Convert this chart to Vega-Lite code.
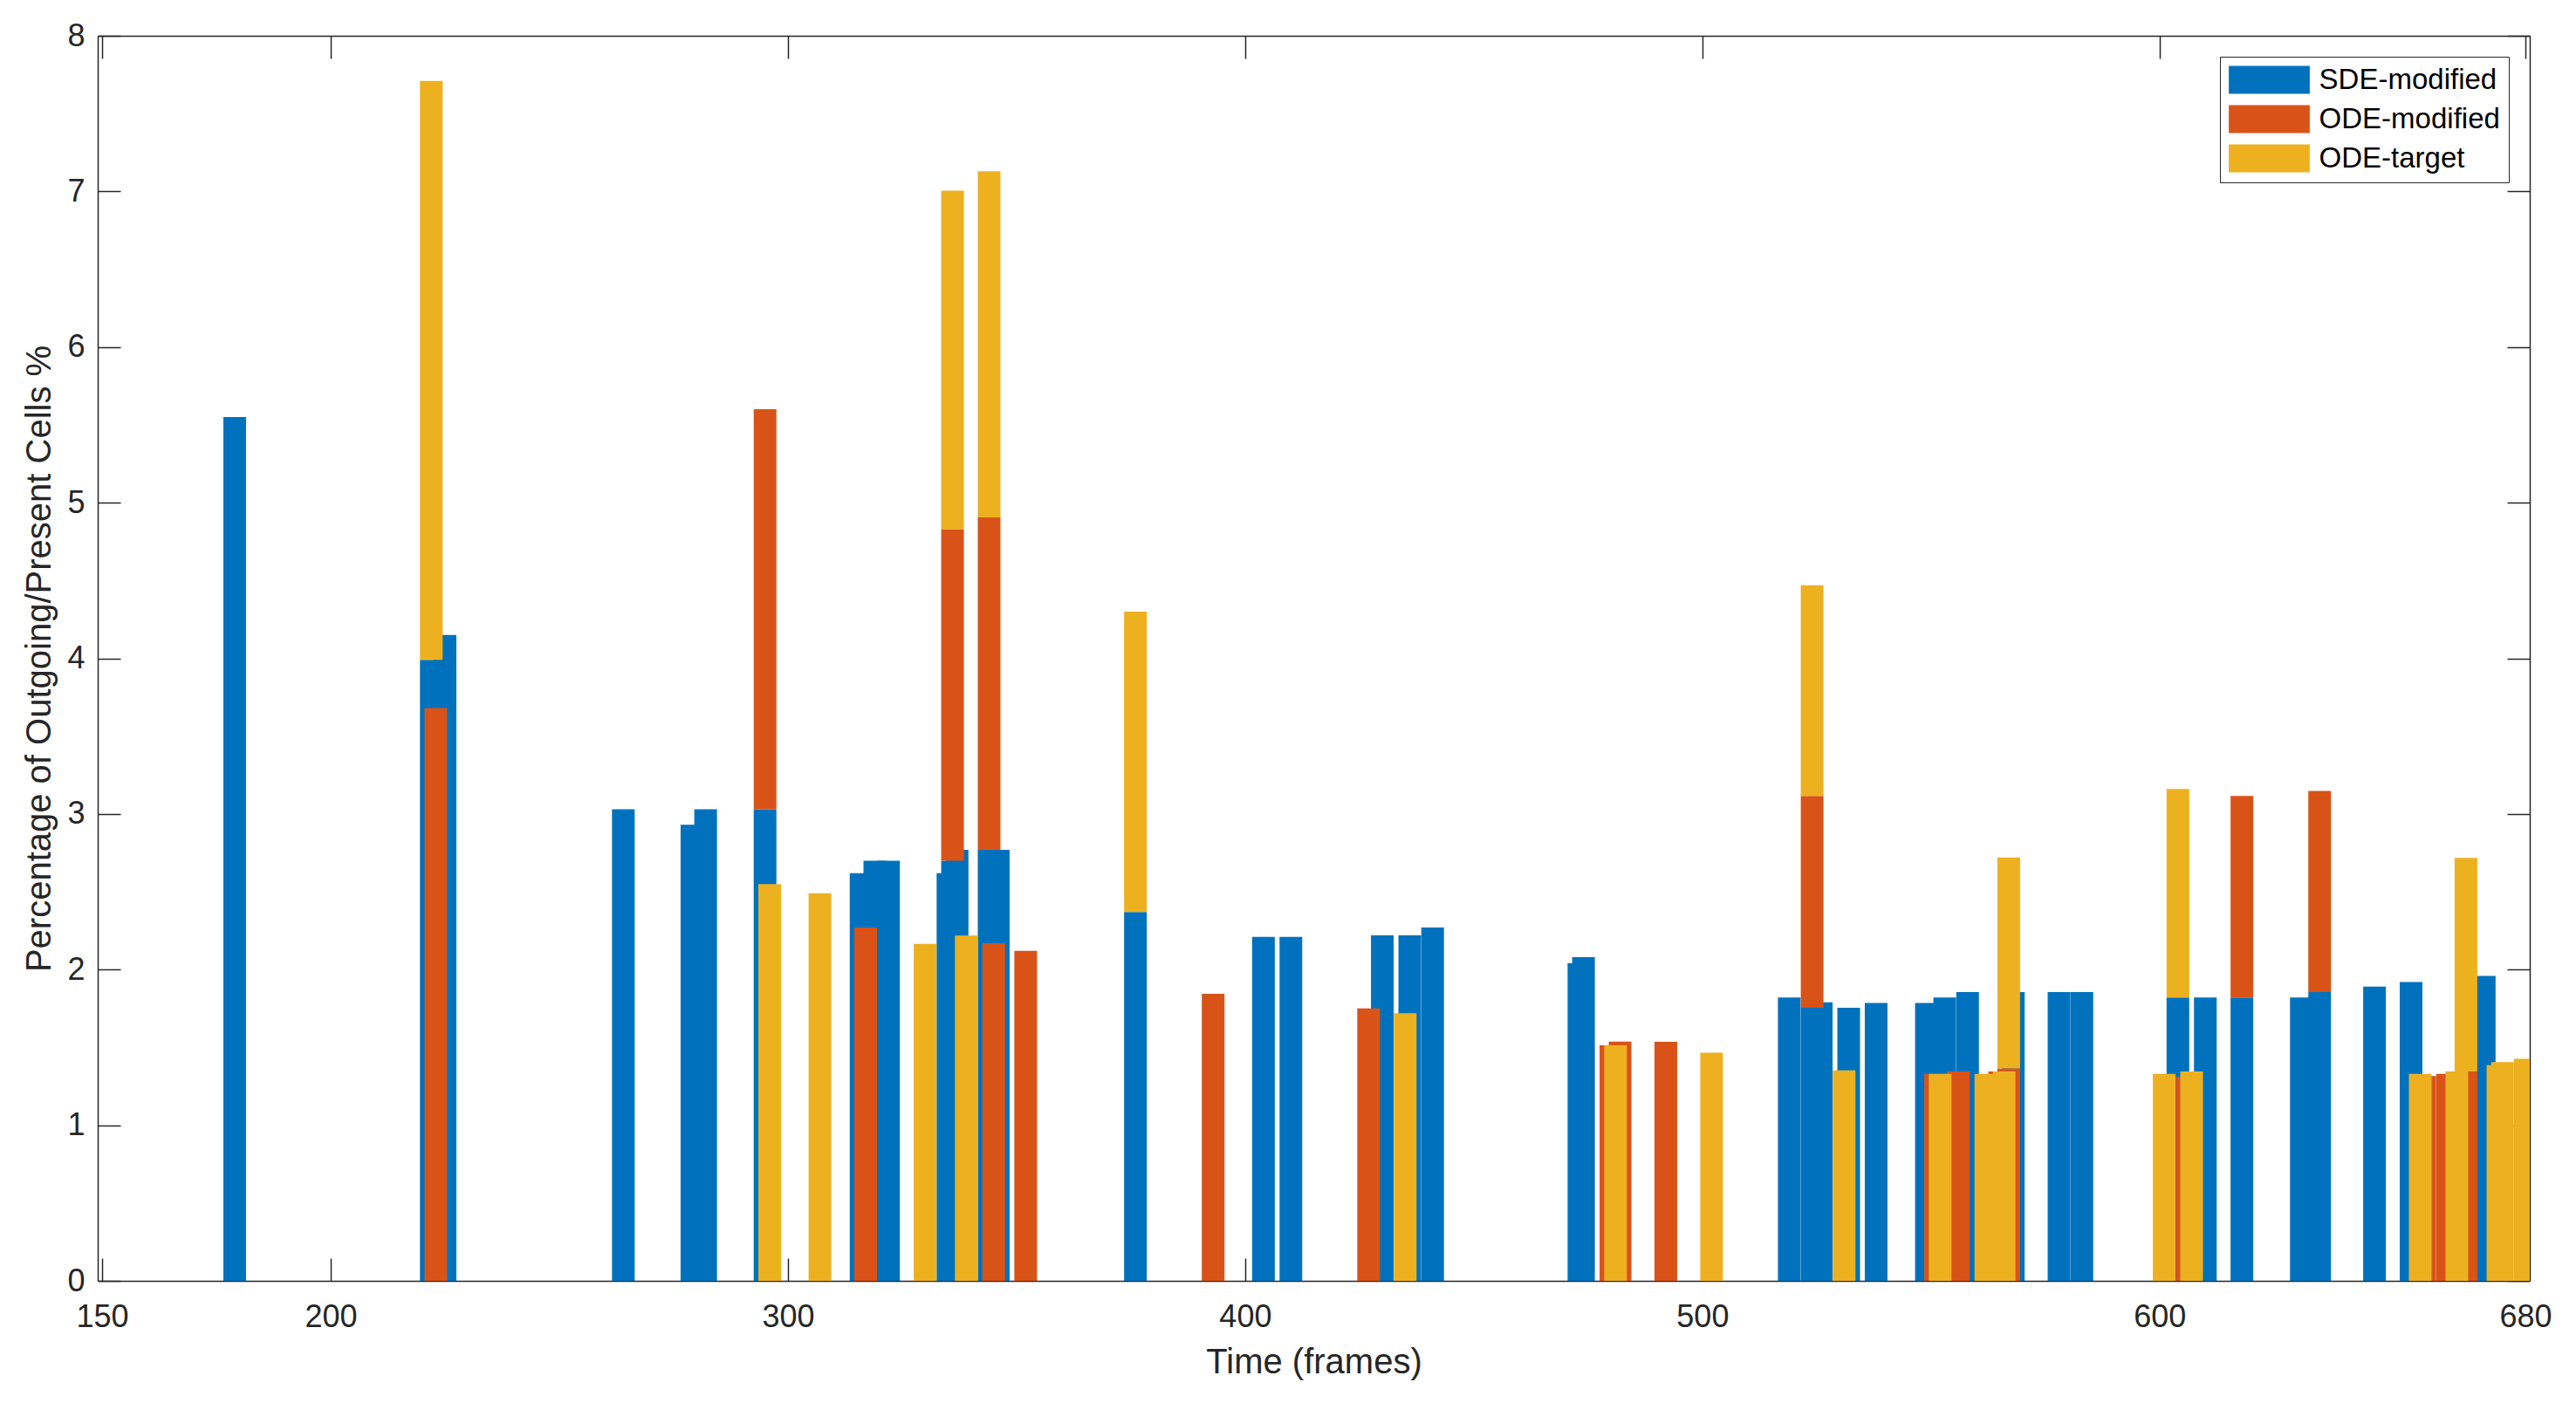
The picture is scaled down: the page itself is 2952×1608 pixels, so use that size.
{
  "$schema": "https://vega.github.io/schema/vega-lite/v6.json",
  "width": 2787,
  "height": 1427,
  "autosize": {"type": "none"},
  "padding": {"left": 112, "top": 41, "right": 53, "bottom": 140},
  "background": "white",
  "data": {"values": [
    {"t": 179, "series": "SDE-modified", "v": 5.55},
    {"t": 222, "series": "SDE-modified", "v": 3.99},
    {"t": 225, "series": "SDE-modified", "v": 4.15},
    {"t": 264, "series": "SDE-modified", "v": 3.03},
    {"t": 279, "series": "SDE-modified", "v": 2.93},
    {"t": 282, "series": "SDE-modified", "v": 3.03},
    {"t": 295, "series": "SDE-modified", "v": 3.03},
    {"t": 316, "series": "SDE-modified", "v": 2.62},
    {"t": 319, "series": "SDE-modified", "v": 2.7},
    {"t": 322, "series": "SDE-modified", "v": 2.7},
    {"t": 335, "series": "SDE-modified", "v": 2.62},
    {"t": 336, "series": "SDE-modified", "v": 2.7},
    {"t": 337, "series": "SDE-modified", "v": 2.77},
    {"t": 344, "series": "SDE-modified", "v": 2.77},
    {"t": 346, "series": "SDE-modified", "v": 2.77},
    {"t": 376, "series": "SDE-modified", "v": 2.37},
    {"t": 404, "series": "SDE-modified", "v": 2.21},
    {"t": 410, "series": "SDE-modified", "v": 2.21},
    {"t": 430, "series": "SDE-modified", "v": 2.22},
    {"t": 436, "series": "SDE-modified", "v": 2.22},
    {"t": 441, "series": "SDE-modified", "v": 2.27},
    {"t": 473, "series": "SDE-modified", "v": 2.04},
    {"t": 474, "series": "SDE-modified", "v": 2.08},
    {"t": 519, "series": "SDE-modified", "v": 1.82},
    {"t": 524, "series": "SDE-modified", "v": 1.755},
    {"t": 526, "series": "SDE-modified", "v": 1.79},
    {"t": 532, "series": "SDE-modified", "v": 1.755},
    {"t": 538, "series": "SDE-modified", "v": 1.785},
    {"t": 549, "series": "SDE-modified", "v": 1.785},
    {"t": 553, "series": "SDE-modified", "v": 1.82},
    {"t": 558, "series": "SDE-modified", "v": 1.855},
    {"t": 568, "series": "SDE-modified", "v": 1.855},
    {"t": 578, "series": "SDE-modified", "v": 1.855},
    {"t": 583, "series": "SDE-modified", "v": 1.855},
    {"t": 604, "series": "SDE-modified", "v": 1.82},
    {"t": 610, "series": "SDE-modified", "v": 1.82},
    {"t": 618, "series": "SDE-modified", "v": 1.82},
    {"t": 631, "series": "SDE-modified", "v": 1.82},
    {"t": 635, "series": "SDE-modified", "v": 1.855},
    {"t": 647, "series": "SDE-modified", "v": 1.89},
    {"t": 655, "series": "SDE-modified", "v": 1.92},
    {"t": 671, "series": "SDE-modified", "v": 1.96},
    {"t": 223, "series": "ODE-modified", "v": 3.68},
    {"t": 295, "series": "ODE-modified", "v": 2.57},
    {"t": 317, "series": "ODE-modified", "v": 2.27},
    {"t": 336, "series": "ODE-modified", "v": 2.13},
    {"t": 344, "series": "ODE-modified", "v": 2.135},
    {"t": 345, "series": "ODE-modified", "v": 2.17},
    {"t": 352, "series": "ODE-modified", "v": 2.12},
    {"t": 393, "series": "ODE-modified", "v": 1.845},
    {"t": 427, "series": "ODE-modified", "v": 1.75},
    {"t": 480, "series": "ODE-modified", "v": 1.513},
    {"t": 482, "series": "ODE-modified", "v": 1.537},
    {"t": 492, "series": "ODE-modified", "v": 1.536},
    {"t": 524, "series": "ODE-modified", "v": 1.36},
    {"t": 551, "series": "ODE-modified", "v": 1.33},
    {"t": 556, "series": "ODE-modified", "v": 1.346},
    {"t": 565, "series": "ODE-modified", "v": 1.346},
    {"t": 567, "series": "ODE-modified", "v": 1.365},
    {"t": 606, "series": "ODE-modified", "v": 1.311},
    {"t": 618, "series": "ODE-modified", "v": 1.295},
    {"t": 635, "series": "ODE-modified", "v": 1.293},
    {"t": 658, "series": "ODE-modified", "v": 1.316},
    {"t": 663, "series": "ODE-modified", "v": 1.33},
    {"t": 667, "series": "ODE-modified", "v": 1.346},
    {"t": 222, "series": "ODE-target", "v": 3.72},
    {"t": 296, "series": "ODE-target", "v": 2.55},
    {"t": 307, "series": "ODE-target", "v": 2.49},
    {"t": 330, "series": "ODE-target", "v": 2.165},
    {"t": 336, "series": "ODE-target", "v": 2.175},
    {"t": 339, "series": "ODE-target", "v": 2.218},
    {"t": 344, "series": "ODE-target", "v": 2.225},
    {"t": 376, "series": "ODE-target", "v": 1.93},
    {"t": 435, "series": "ODE-target", "v": 1.72},
    {"t": 481, "series": "ODE-target", "v": 1.513},
    {"t": 502, "series": "ODE-target", "v": 1.466},
    {"t": 524, "series": "ODE-target", "v": 1.355},
    {"t": 531, "series": "ODE-target", "v": 1.352},
    {"t": 552, "series": "ODE-target", "v": 1.33},
    {"t": 562, "series": "ODE-target", "v": 1.33},
    {"t": 566, "series": "ODE-target", "v": 1.346},
    {"t": 567, "series": "ODE-target", "v": 1.355},
    {"t": 601, "series": "ODE-target", "v": 1.33},
    {"t": 604, "series": "ODE-target", "v": 1.34},
    {"t": 607, "series": "ODE-target", "v": 1.346},
    {"t": 657, "series": "ODE-target", "v": 1.33},
    {"t": 665, "series": "ODE-target", "v": 1.346},
    {"t": 667, "series": "ODE-target", "v": 1.371},
    {"t": 674, "series": "ODE-target", "v": 1.386},
    {"t": 675, "series": "ODE-target", "v": 1.406},
    {"t": 680, "series": "ODE-target", "v": 1.427}
  ]},
  "transform": [{"stack": "v", "groupby": ["t"], "as": ["v0", "v1"]}],
  "layer": [
    {
      "transform": [{"filter": "datum.series === 'SDE-modified'"}],
      "mark": {"type": "bar", "width": 26, "clip": true},
      "encoding": {
        "x": {"field": "t", "type": "quantitative", "scale": {"domain": [150, 680], "nice": false, "zero": false},
              "axis": {"orient": "bottom", "values": [150, 200, 300, 400, 500, 600, 680], "title": "Time (frames)", "tickSize": -26, "labelPadding": 50, "titlePadding": 14, "labelBaseline": "top"}},
        "y": {"field": "v1", "type": "quantitative", "scale": {"domain": [0, 8], "nice": false},
              "axis": {"orient": "left", "values": [0, 1, 2, 3, 4, 5, 6, 7, 8], "title": "Percentage of Outgoing/Present Cells %", "tickSize": -26, "labelPadding": 41, "titlePadding": 11}},
        "y2": {"field": "v0"},
        "color": {"field": "series", "type": "nominal",
                  "scale": {"domain": ["SDE-modified", "ODE-modified", "ODE-target"], "range": ["#0072BD", "#D95319", "#EDB120"]},
                  "legend": {"title": null, "orient": "top-right", "offset": 24, "padding": 10, "strokeColor": "#262626", "fillColor": "white",
                             "symbolType": "M-2.9,-1L2.9,-1L2.9,1L-2.9,1Z", "symbolSize": 1024, "symbolOffset": 30, "labelOffset": 40.6, "labelLimit": 500,
                             "labelFontSize": 33, "labelFont": "Liberation Sans", "labelColor": "#000000", "rowPadding": 11, "symbolStrokeWidth": 0, "symbolOpacity": 1}}
      }
    },
    {
      "transform": [{"filter": "datum.series === 'ODE-modified'"}],
      "mark": {"type": "bar", "width": 26, "clip": true},
      "encoding": {
        "x": {"field": "t", "type": "quantitative", "scale": {"domain": [150, 680], "nice": false, "zero": false},
              "axis": {"orient": "top", "values": [150, 200, 300, 400, 500, 600, 680], "title": null, "labels": false, "tickSize": -26}},
        "y": {"field": "v1", "type": "quantitative", "scale": {"domain": [0, 8], "nice": false},
              "axis": {"orient": "right", "values": [0, 1, 2, 3, 4, 5, 6, 7, 8], "title": null, "labels": false, "tickSize": -26}},
        "y2": {"field": "v0"},
        "color": {"field": "series", "type": "nominal"}
      }
    },
    {
      "transform": [{"filter": "datum.series === 'ODE-target'"}],
      "mark": {"type": "bar", "width": 26, "clip": true},
      "encoding": {
        "x": {"field": "t", "type": "quantitative", "scale": {"domain": [150, 680], "nice": false, "zero": false}, "axis": null},
        "y": {"field": "v1", "type": "quantitative", "scale": {"domain": [0, 8], "nice": false}, "axis": null},
        "y2": {"field": "v0"},
        "color": {"field": "series", "type": "nominal"}
      }
    }
  ],
  "resolve": {"axis": {"x": "independent", "y": "independent"}},
  "config": {
    "font": "Liberation Sans",
    "view": {"stroke": null},
    "axis": {"grid": false, "domainColor": "#262626", "domainWidth": 1.5, "tickColor": "#262626", "tickWidth": 1.5,
             "labelColor": "#262626", "labelFontSize": 36, "labelFont": "Liberation Sans",
             "titleColor": "#262626", "titleFontSize": 40, "titleFontWeight": "normal", "titleFont": "Liberation Sans"}
  }
}
